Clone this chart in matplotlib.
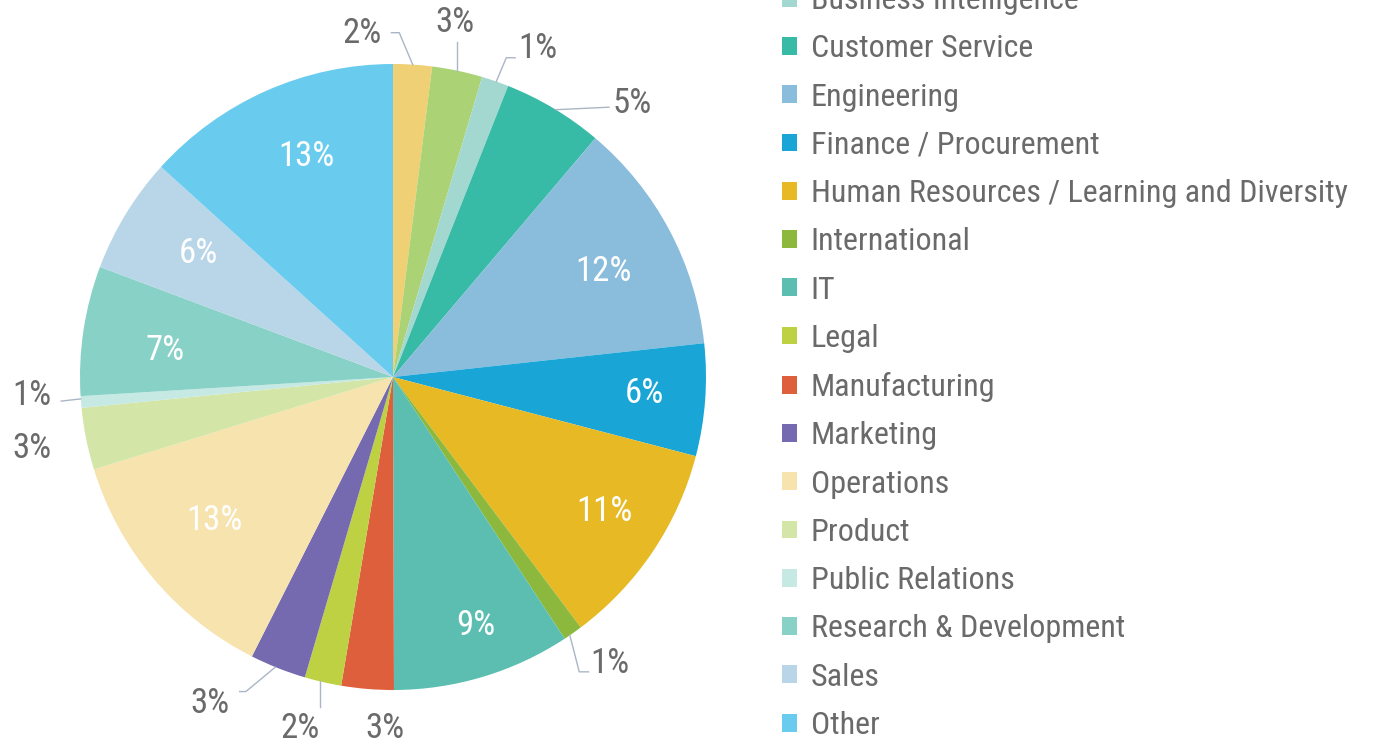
import matplotlib.pyplot as plt
from matplotlib.patches import Patch

plt.rcParams['font.family'] = ['Roboto Condensed', 'Archivo Narrow', 'Roboto', 'DejaVu Sans']

# legend order (first two entries are cut off at the top of the picture)
departments = ['Accounting', 'Administration', 'Business Intelligence', 'Customer Service',
               'Engineering', 'Finance / Procurement', 'Human Resources / Learning and Diversity',
               'International', 'IT', 'Legal', 'Manufacturing', 'Marketing', 'Operations',
               'Product', 'Public Relations', 'Research & Development', 'Sales', 'Other']
shares = [2.0, 2.6, 1.4, 5.2, 12.1, 5.8, 10.7, 1.0, 9.2, 1.9, 2.7, 2.9, 12.8, 3.2, 0.6, 6.7, 6.0, 13.3]
colors = ['#f0d074', '#acd276', '#a2d8d0', '#38bba6', '#8abcdc', '#19a6d6', '#e6b925',
          '#8cb93d', '#5bbeb1', '#bdd143', '#de5f3c', '#7569af', '#f6e3ae', '#d4e6a7',
          '#c6e9e4', '#88d1c6', '#b9d6e9', '#69ccef']
# order of the slices clockwise from 12 o'clock
pie_order = [0, 1, 2, 3, 4, 5, 6, 7, 8, 10, 9, 11, 12, 13, 14, 15, 16, 17]

vals = [shares[i] for i in pie_order]
cols = [colors[i] for i in pie_order]
total = sum(vals)
pct = [f'{round(v / total * 100)}%' for v in vals]

W, H = 1390, 744
fig = plt.figure(figsize=(W / 100, H / 100), dpi=100)
cx, cy, R = 393, 377, 313
ax = fig.add_axes([(cx - R) / W, (H - cy - R) / H, 2 * R / W, 2 * R / H])
wedges, _ = ax.pie(vals, colors=cols, startangle=90, counterclock=False, radius=1,
                   wedgeprops=dict(linewidth=0))
ax.set_xlim(-1, 1)
ax.set_ylim(-1, 1)
ax.set_aspect('equal')
ax.axis('off')

grey = '#6a6a6a'
line_c = '#aab5c6'
fs_pct = 25
fs_leg = 23

# label placement (pie units), slice index -> (x, y, leader points)
inside = {
    4: (0.674, 0.348), 5: (0.802, -0.042), 6: (0.674, -0.419), 8: (0.265, -0.783),
    12: (-0.569, -0.450), 15: (-0.728, 0.096), 16: (-0.623, 0.406), 17: (-0.275, 0.716),
}
outside = {
    0: (-0.099, 1.109, [(0.063, 0.998), (0.02, 1.10), (-0.005, 1.10)]),
    1: (0.198, 1.141, [(0.205, 0.978), (0.205, 1.07)]),
    2: (0.463, 1.061, [(0.33, 0.944), (0.362, 1.02), (0.39, 1.02)]),
    3: (0.764, 0.885, [(0.52, 0.854), (0.69, 0.862)]),
    7: (0.693, -0.904, [(0.565, -0.825), (0.595, -0.942), (0.625, -0.942)]),
    9: (-0.026, -1.112, []),
    10: (-0.297, -1.112, [(-0.233, -0.972), (-0.233, -1.055)]),
    11: (-0.585, -1.032, [(-0.376, -0.927), (-0.47, -1.005), (-0.49, -1.005)]),
    13: (-1.153, -0.217, []),
    14: (-1.153, -0.048, [(-0.998, -0.07), (-1.06, -0.077)]),
}
dy = -0.01

for i in range(len(vals)):
    if i in outside:
        tx, ty, pts = outside[i]
        if pts:
            xs, ys = zip(*pts)
            ax.plot(xs, ys, color=line_c, lw=1, clip_on=False)
        ax.text(tx, ty + dy, pct[i], ha='center', va='center', fontsize=fs_pct, color=grey)
    else:
        tx, ty = inside[i]
        ax.text(tx, ty + dy, pct[i], ha='center', va='center', fontsize=fs_pct, color='white')

handles = [Patch(facecolor=c, edgecolor='none') for c in colors]
fig.legend(handles, departments, loc='upper left', bbox_to_anchor=(782 / W, 1 + 110.5 / H),
           frameon=False, fontsize=fs_leg, handlelength=0.48, handleheight=0.48,
           handletextpad=0.42, labelspacing=0.603, borderpad=0, borderaxespad=0,
           labelcolor=grey)

fig.savefig('out.png', dpi=100)
